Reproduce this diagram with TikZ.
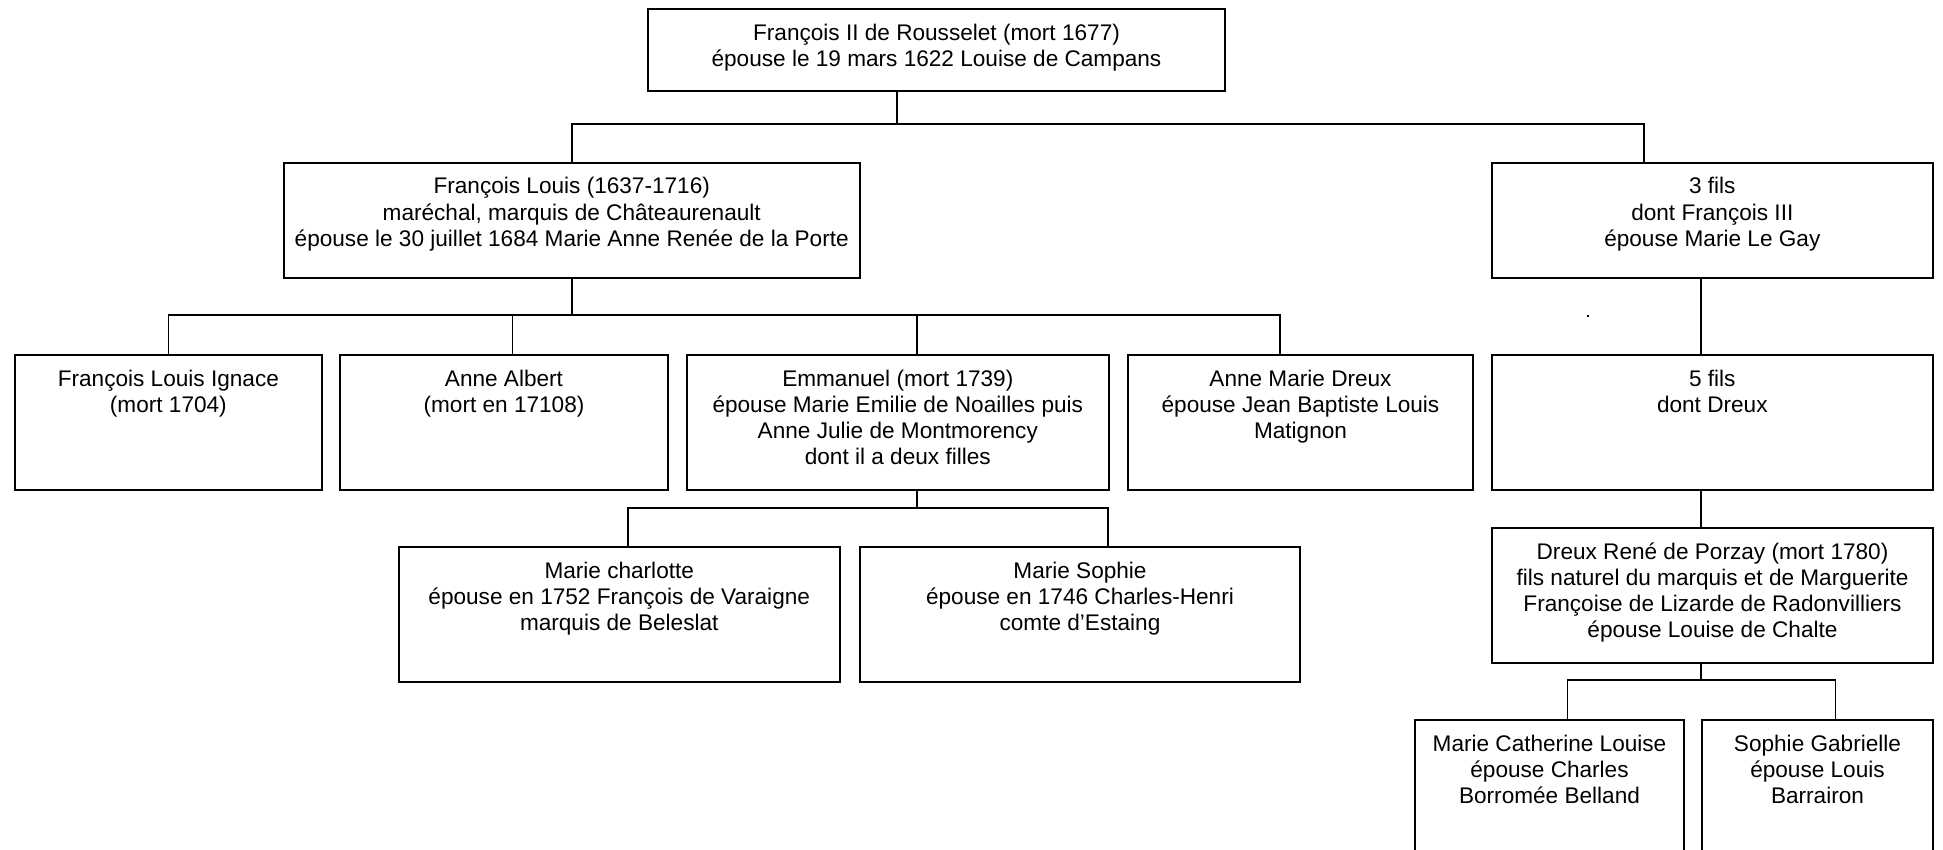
\documentclass[tikz,border=0pt]{standalone}
\usepackage{fontspec}
\setmainfont{Liberation Sans}
\newcommand{\bxt}[3]{\parbox[t][#2pt][t]{#1pt}{\centering\rule{0pt}{31pt}#3}}
\begin{document}
\begin{tikzpicture}[x=1pt,y=-1pt,
  box/.style={draw, line width=2pt, inner sep=0pt, anchor=north west,
    font=\fontsize{22.6}{26.3}\selectfont},
  conn/.style={line width=1.5pt}]
\clip (0,0) rectangle (1943,850);
\fill[white] (0,0) rectangle (1943,850);
% boxes
\node[box] (top) at (647,8.5) {\bxt{577}{81.5}{François II de Rousselet (mort 1677)\\épouse le 19 mars 1622 Louise de Campans}};
\node[box] (fl) at (282.5,162) {\bxt{576.5}{115}{François Louis (1637-1716)\\maréchal, marquis de Châteaurenault\\épouse le 30 juillet 1684 Marie Anne Renée de la Porte}};
\node[box] (trois) at (1490.6,162) {\bxt{441.4}{115}{3 fils\\dont François III\\épouse Marie Le Gay}};
\node[box] (fli) at (13.75,354) {\bxt{307.25}{135}{François Louis Ignace\\(mort 1704)}};
\node[box] (aa) at (339,354) {\bxt{328}{135}{Anne Albert\\(mort en 17108)}};
\node[box] (em) at (685.6,354) {\bxt{422.4}{135}{Emmanuel (mort 1739)\\épouse Marie Emilie de Noailles puis\\Anne Julie de Montmorency\\dont il a deux filles}};
\node[box] (amd) at (1127,354) {\bxt{345}{135}{Anne Marie Dreux\\épouse Jean Baptiste Louis\\Matignon}};
\node[box] (cinq) at (1490.6,354) {\bxt{441.4}{135}{5 fils\\dont Dreux}};
\node[box] (mc) at (397.5,546) {\bxt{441.5}{135}{Marie charlotte\\épouse en 1752 François de Varaigne\\marquis de Beleslat}};
\node[box] (ms) at (859,546) {\bxt{440}{135}{Marie Sophie\\épouse en 1746 Charles-Henri\\comte d’Estaing}};
\node[box] (drp) at (1491,527) {\bxt{441}{135}{Dreux René de Porzay (mort 1780)\\fils naturel du marquis et de Marguerite\\Françoise de Lizarde de Radonvilliers\\épouse Louise de Chalte}};
\node[box] (mcl) at (1414,719) {\bxt{269}{200}{Marie Catherine Louise\\épouse Charles\\Borromée Belland}};
\node[box] (sg) at (1701,719) {\bxt{231}{200}{Sophie Gabrielle\\épouse Louis\\Barrairon}};
% junction coordinates
\coordinate (j1) at (897,124);
\coordinate (j1b) at (1644,124);
\coordinate (j2a) at (512.5,315);
\coordinate (j2b) at (917,315);
\coordinate (j2c) at (1280,315);
\coordinate (j3) at (917,508);
\coordinate (j3a) at (628,508);
\coordinate (j3b) at (1108,508);
\coordinate (jr) at (1701,0);
\coordinate (j4a) at (1567.5,680);
\coordinate (j4b) at (1835.6,680);
% connectors
\draw[conn] (top.south -| j1) -- (j1);
\draw[conn] (fl.north) |- (j1b) -- (trois.north -| j1b);
\draw[conn] (fl.south) -- (fl.south |- j2a);
\draw[conn] (fli.north) |- (j2c) -- (amd.north -| j2c);
\draw[conn] (j2a) -- (aa.north -| j2a);
\draw[conn] (j2b) -- (em.north -| j2b);
\draw[conn] (em.south -| j3) -- (j3);
\draw[conn] (mc.north -| j3a) |- (j3b) -- (ms.north -| j3b);
\draw[conn] (trois.south -| jr) -- (cinq.north -| jr);
\draw[conn] (cinq.south -| jr) -- (drp.north -| jr);
\draw[conn] (drp.south -| jr) -- (jr |- j4a);
\draw[conn] (mcl.north -| j4a) |- (j4b) -- (sg.north -| j4b);
% stray dot
\fill (1587,315) rectangle (1589,317);
\end{tikzpicture}
\end{document}
